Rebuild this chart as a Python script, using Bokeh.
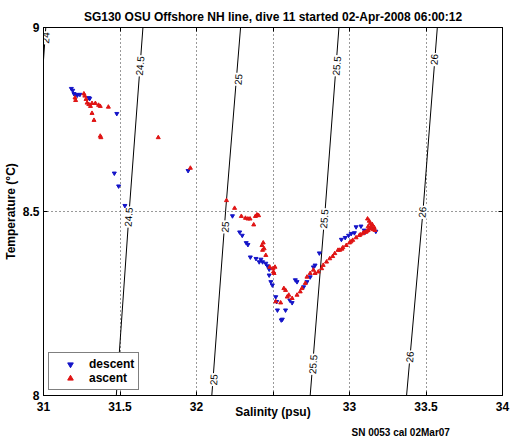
from bokeh.plotting import figure
from bokeh.models import Range1d, FixedTicker, LinearAxis, Title, Legend, LegendItem
from bokeh.core.properties import value
from bokeh.embed import file_html
from bokeh.resources import INLINE

# ---------------- data ----------------
title_text = "SG130 OSU Offshore NH line, dive 11 started 02-Apr-2008 06:00:12"
xlabel_text = "Salinity (psu)"
ylabel_text = "Temperature (\u00b0C)"
note_text = "SN 0053 cal 02Mar07"

x_ticks = [31.0, 31.5, 32.0, 32.5, 33.0, 33.5, 34.0]
x_tick_labels = ["31", "31.5", "32", "", "33", "33.5", "34"]
y_ticks = [8.0, 8.5, 9.0]
y_tick_labels = ["8", "8.5", "9"]

# isopycnal (sigma-theta) contours: salinity where each level crosses T = 8, 8.5, 9
contour_levels = [24.0, 24.5, 25.0, 25.5, 26.0]
contour_t = [8.0, 8.5, 9.0]
contour_s_at_t = [
    [30.85, 30.93, 31.015],
    [31.476, 31.560, 31.650],
    [32.100, 32.190, 32.288],
    [32.743, 32.840, 32.931],
    [33.373, 33.480, 33.574],
]
# contour labels
clabel_text = ["24", "24.5", "24.5", "25", "25", "25", "25.5", "25.5", "25.5", "26", "26", "26"]
clabel_s = [31.012, 31.628, 31.553, 32.271, 32.185, 32.110, 32.914, 32.832, 32.759, 33.551, 33.474, 33.392]
clabel_t = [8.972, 8.896, 8.485, 8.859, 8.458, 8.043, 8.896, 8.480, 8.085, 8.913, 8.498, 8.105]

descent_s = [31.182, 31.191, 31.199, 31.210, 31.221, 31.238, 31.296, 31.302,
             31.479, 31.463, 31.491, 31.532, 31.945,
             32.235, 32.282, 32.299, 32.325, 32.336, 32.352, 32.389, 32.421, 32.432, 32.453, 32.464, 32.475,
             32.410, 32.475, 32.486, 32.496, 32.518, 32.524, 32.529, 32.582, 32.561, 32.554,
             32.610, 32.625, 32.646, 32.657, 32.700, 32.722, 32.743, 32.764, 32.775, 32.803,
             32.947, 32.972, 32.994, 33.011, 33.032, 33.043, 33.075, 33.096, 33.103, 33.156, 33.172]
descent_t = [8.834, 8.829, 8.820, 8.818, 8.816, 8.818, 8.809, 8.807,
             8.766, 8.604, 8.569, 8.516, 8.611,
             8.488, 8.444, 8.435, 8.415, 8.410, 8.376, 8.372, 8.370, 8.363, 8.359, 8.352, 8.343,
             8.363, 8.327, 8.309, 8.300, 8.268, 8.255, 8.232, 8.232, 8.207, 8.205,
             8.259, 8.252, 8.314, 8.309, 8.295, 8.309, 8.322, 8.349, 8.354, 8.387,
             8.424, 8.429, 8.435, 8.440, 8.442, 8.458, 8.460, 8.449, 8.444, 8.453, 8.446]

ascent_s = [31.206, 31.210, 31.264, 31.270, 31.278, 31.285, 31.296, 31.307, 31.317, 31.339,
            31.360, 31.371, 31.424, 31.317, 31.330, 31.371, 31.375, 31.750, 31.960,
            32.196, 32.249, 32.293, 32.320, 32.336, 32.350, 32.385, 32.395, 32.406, 32.374,
            32.436, 32.428, 32.442, 32.432, 32.453, 32.479, 32.500, 32.513, 32.503, 32.507,
            32.571, 32.582, 32.603, 32.593, 32.518, 32.550, 32.625, 32.657, 32.678, 32.689,
            32.711, 32.722, 32.743, 32.764, 32.775, 32.796, 32.818, 32.828, 32.850, 32.871,
            32.904, 32.925,
            32.936, 32.957, 32.979, 33.000, 33.021, 33.043, 33.064, 33.086, 33.107, 33.122,
            33.135, 33.118, 33.129, 33.135, 33.143, 33.156, 33.167, 33.148, 33.161, 33.122,
            32.890, 32.950, 33.010, 33.070, 33.095, 33.115]
ascent_t = [8.809, 8.802, 8.820, 8.814, 8.805, 8.795, 8.791, 8.786, 8.794, 8.794,
            8.789, 8.786, 8.784, 8.767, 8.748, 8.705, 8.701, 8.701, 8.618,
            8.530, 8.509, 8.487, 8.482, 8.480, 8.480, 8.487, 8.491, 8.489, 8.464,
            8.415, 8.408, 8.399, 8.395, 8.381, 8.349, 8.345, 8.349, 8.336, 8.332,
            8.291, 8.286, 8.273, 8.268, 8.255, 8.252, 8.264, 8.273, 8.282, 8.291,
            8.305, 8.322, 8.332, 8.341, 8.332, 8.336, 8.345, 8.354, 8.363, 8.372,
            8.386, 8.395,
            8.395, 8.402, 8.408, 8.415, 8.422, 8.429, 8.435, 8.440, 8.444, 8.449,
            8.453, 8.480, 8.474, 8.467, 8.459, 8.451, 8.449, 8.465, 8.457, 8.459,
            8.378, 8.398, 8.418, 8.437, 8.443, 8.447]

FONT = "Liberation Sans"
BLUE = "#1414c8"
RED = "#e01414"

# ---------------- figure ----------------
p = figure(width=510, height=441,
           x_range=Range1d(31, 34), y_range=Range1d(8, 9),
           output_backend="svg", toolbar_location=None,
           min_border_left=36, min_border_right=8, min_border_top=27, min_border_bottom=44)
p.background_fill_color = "white"
p.border_fill_color = "white"
p.outline_line_color = "black"
p.outline_line_width = 1

p.title.text = title_text
p.title.text_font = FONT
p.title.text_font_size = "12px"
p.title.text_font_style = "bold"
p.title.text_color = "black"
p.title.align = "center"
p.title.standoff = 7

# grids
p.xgrid.ticker = FixedTicker(ticks=x_ticks)
p.ygrid.ticker = FixedTicker(ticks=y_ticks)
for g in (p.xgrid[0], p.ygrid[0]):
    g.grid_line_color = "#333333"
    g.grid_line_dash = "1 3"
    g.grid_line_width = 1

# axes
xa = p.xaxis[0]
ya = p.yaxis[0]
xa.ticker = FixedTicker(ticks=x_ticks)
ya.ticker = FixedTicker(ticks=y_ticks)
xa.major_label_overrides = {t: l for t, l in zip(x_ticks, x_tick_labels)}
ya.major_label_overrides = {t: l for t, l in zip(y_ticks, y_tick_labels)}
xa.axis_label = xlabel_text
ya.axis_label = ylabel_text
for ax in (xa, ya):
    ax.major_tick_in = 4
    ax.major_tick_out = 0
    ax.minor_tick_line_color = None
    ax.axis_line_color = "black"
    ax.major_tick_line_color = "black"
    ax.major_label_text_font = FONT
    ax.major_label_text_font_size = "12px"
    ax.major_label_text_font_style = "bold"
    ax.major_label_text_color = "black"
    ax.major_label_standoff = 4
    ax.axis_label_text_font = FONT
    ax.axis_label_text_font_size = "12px"
    ax.axis_label_text_font_style = "bold"
    ax.axis_label_text_color = "black"
xa.major_label_standoff = 6
ya.axis_label_standoff = 2
xa.axis_label_standoff = -9

for side, tk in (("above", x_ticks), ("right", y_ticks)):
    ax2 = LinearAxis(ticker=FixedTicker(ticks=tk), major_tick_in=4, major_tick_out=0,
                     minor_tick_line_color=None, major_label_text_font_size="1px",
                     major_label_text_color=None,
                     major_label_standoff=0, axis_line_color="black")
    p.add_layout(ax2, side)

# contours
for lvl, ss in zip(contour_levels, contour_s_at_t):
    p.line(ss, contour_t, line_color="black", line_width=1)

p.text(x=clabel_s, y=clabel_t, text=clabel_text, angle=1.497,
       text_font=value(FONT), text_font_size="10px", text_align="center",
       text_baseline="middle", text_color="black",
       background_fill_color="white", padding=1)

# data
r_desc = p.scatter(descent_s, descent_t, marker="inverted_triangle", size=4,
                   fill_color=BLUE, line_color=BLUE)
r_asc = p.scatter(ascent_s, ascent_t, marker="triangle", size=4,
                  fill_color=RED, line_color=RED)

legend = Legend(items=[LegendItem(label="descent", renderers=[r_desc]),
                       LegendItem(label="ascent", renderers=[r_asc])],
                location="bottom_left", margin=5, padding=4, spacing=0,
                glyph_width=34, glyph_height=14, label_height=14, label_standoff=2,
                label_text_font=FONT, label_text_font_size="12px", label_text_font_style="bold",
                label_text_color="black",
                border_line_color="black", border_line_width=1, background_fill_alpha=1)
p.add_layout(legend, "center")

note = Title(text=note_text, align="left", offset=308, standoff=7,
             text_font=FONT, text_font_size="10px", text_font_style="bold", text_color="black")
p.add_layout(note, "below")

open("out.html", "w").write(file_html(p, INLINE))
